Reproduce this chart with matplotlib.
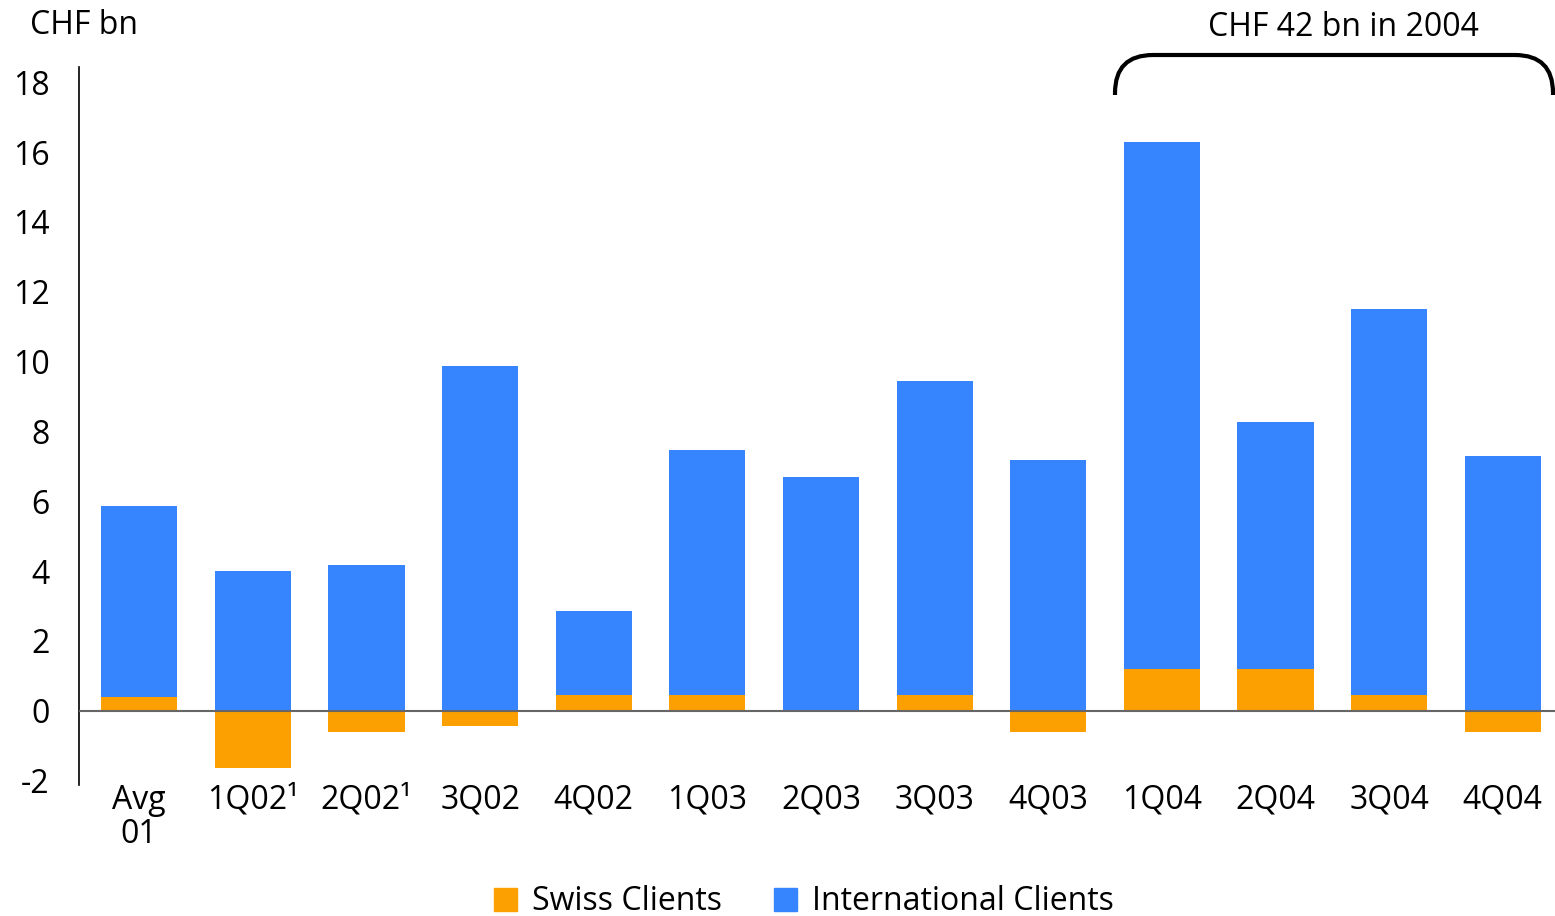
import numpy as np
import matplotlib
matplotlib.use("Agg")
import matplotlib.pyplot as plt
from matplotlib.path import Path
from matplotlib.patches import PathPatch, Patch

plt.rcParams['font.family'] = ['Open Sans', 'DejaVu Sans']
plt.rcParams['axes.unicode_minus'] = False

quarters = ["Avg\n01", "1Q02\u00b9", "2Q02\u00b9", "3Q02", "4Q02", "1Q03", "2Q03",
            "3Q03", "4Q03", "1Q04", "2Q04", "3Q04", "4Q04"]
# net new money, CHF bn
swiss = [0.4, -1.65, -0.62, -0.44, 0.44, 0.44, 0.0, 0.44, -0.62, 1.19, 1.19, 0.44, -0.62]
total_top = [5.86, 4.0, 4.17, 9.87, 2.85, 7.46, 6.69, 9.44, 7.18, 16.29, 8.27, 11.5, 7.29]

swiss = np.array(swiss)
base = np.clip(swiss, 0, None)
international = np.array(total_top) - base

orange = "#FBA000"
blue = "#3784FF"
fs = 23


def main():
  fig = plt.figure(figsize=(15.55, 9.16), dpi=100)
  ax = fig.add_axes([79/1555, 1 - 785/916, 1 - 79/1555, (785 - 67)/916])

  x = np.arange(len(quarters))
  w = 0.67
  ax.bar(x, swiss, w, color=orange, linewidth=0, zorder=2)
  ax.bar(x, international, w, bottom=base, color=blue, linewidth=0, zorder=2)
  ax.axhline(0, color="#666666", lw=1.5, zorder=3)

  ax.set_xlim(-0.53, 12.46)
  ax.set_ylim(-2.13, 18.44)
  ax.set_yticks(range(-2, 19, 2))
  ax.set_xticks(x)
  ax.set_xticklabels(quarters, fontsize=fs, linespacing=1.05)
  ax.tick_params(axis='x', length=0, pad=-1)
  ax.tick_params(axis='y', length=0, pad=21, labelsize=fs)
  for s in ['top', 'right', 'bottom']:
    ax.spines[s].set_visible(False)
  ax.spines['left'].set_linewidth(1.2)

  fig.text(30/1555, 1 - 26/916, "CHF bn", fontsize=fs, va='center', ha='left')
  fig.text(1343/1555, 1 - 28/916, "CHF 42 bn in 2004", fontsize=fs, va='center', ha='center')

  # rounded bracket over 2004 quarters
  W, H = 1555.0, 916.0
  x0, x1, yb, yt, r = 1115, 1553, 95, 55, 38
  pts = [(x0, yb), (x0, yt + r), (x0, yt), (x0 + r, yt), (x1 - r, yt),
         (x1, yt), (x1, yt + r), (x1, yb)]
  codes = [Path.MOVETO, Path.LINETO, Path.CURVE3, Path.CURVE3, Path.LINETO,
           Path.CURVE3, Path.CURVE3, Path.LINETO]
  verts = [(px / W, 1 - py / H) for px, py in pts]
  fig.add_artist(PathPatch(Path(verts, codes), transform=fig.transFigure,
                           fill=False, lw=3, edgecolor='black', capstyle='butt'))

  handles = [Patch(color=orange, label="Swiss Clients"),
             Patch(color=blue, label="International Clients")]
  fig.legend(handles=handles, loc='center', bbox_to_anchor=(0.517, 1 - 902/916),
             ncol=2, frameon=False, fontsize=fs, handlelength=0.72, handleheight=0.72,
             handletextpad=0.47, columnspacing=1.6, borderpad=0)

  fig.savefig("out.png", dpi=100)


if __name__ == '__main__':
  main()
